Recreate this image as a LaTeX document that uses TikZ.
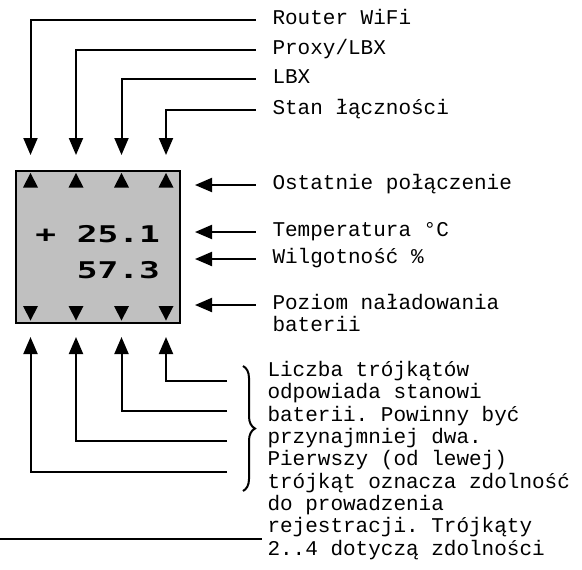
\documentclass[tikz,border=0pt]{standalone}
\usepackage{fontspec}
\setmonofont{Liberation Mono}
\newfontfamily\lcdfont[FakeStretch=1.5]{DejaVu Sans Mono Bold}
\usetikzlibrary{arrows.meta,decorations.pathreplacing}
\definecolor{lcdgray}{RGB}{192,192,192}
\tikzset{
  lbl/.style={anchor=base west, inner sep=0pt, align=left,
    font=\ttfamily\fontsize{10.5}{11.15}\selectfont},
  arr/.style={line width=1pt, -{Triangle[length=8.5pt,width=7pt]}},
  lcd/.style={anchor=base east, inner sep=0pt,
    font=\lcdfont\fontsize{11.5}{13}\selectfont},
}
\begin{document}
\begin{tikzpicture}[x=0.5pt,y=-0.5pt,line width=1pt]
\useasboundingbox (0,0) rectangle (582,569);
% display
\node[draw, fill=lcdgray, inner sep=0pt, minimum width=82pt, minimum height=76pt] (disp) at (98,247) {};
\foreach \x [count=\i] in {30.5,76,121.5,166} {
  \fill (\x-7.5,187.5) -- (\x+7.5,187.5) -- (\x,173) -- cycle;
  \fill (\x-7.5,306) -- (\x+7.5,306) -- (\x,320.5) -- cycle;
  \coordinate (col\i) at (\x,0);
}
\node[lcd] (temp) at (161,242) {+ 25.1};
\node[lcd] (hum) at (161,278) {57.3};
% labels on top
\node[lbl] (router) at (271.5,24.5) {Router WiFi};
\node[lbl] (proxy) at (271.5,54.5) {Proxy/LBX};
\node[lbl] (lbx) at (271.5,83.5) {LBX};
\node[lbl] (stan) at (271.5,114.5) {Stan łączności};
\draw[arr, shorten >=7.5pt] ([shift={(-16,-4.5)}]router.base west) -| (col1 |- disp.north);
\draw[arr, shorten >=7.5pt] ([shift={(-16,-4.5)}]proxy.base west) -| (col2 |- disp.north);
\draw[arr, shorten >=7.5pt] ([shift={(-16,-4.5)}]lbx.base west) -| (col3 |- disp.north);
\draw[arr, shorten >=7.5pt] ([shift={(-16,-4.5)}]stan.base west) -| (col4 |- disp.north);
% labels on the right
\node[lbl] (ostatnie) at (271.5,189.5) {Ostatnie połączenie};
\node[lbl] (temper) at (271.5,236.5) {Temperatura °C};
\node[lbl] (wilg) at (271.5,263.5) {Wilgotność \%};
\node[lbl] (poziom) at (271.5,331.8) {Poziom naładowania\\baterii};
\draw[arr, shorten >=7pt] ([shift={(-16,-4.5)}]ostatnie.base west) coordinate (o1) -- (o1 -| disp.east);
\draw[arr, shorten >=7pt] ([shift={(-16,-4.5)}]temper.base west) coordinate (o2) -- (o2 -| disp.east);
\draw[arr, shorten >=7pt] ([shift={(-16,-4.5)}]wilg.base west) coordinate (o3) -- (o3 -| disp.east);
\draw[arr, shorten >=7pt] ([shift={(-16,-26.8)}]poziom.base west) coordinate (o4) -- (o4 -| disp.east);
% battery triangles
\coordinate (b1) at (227,381);
\coordinate (b2) at (227,411);
\coordinate (b3) at (227,441);
\coordinate (b4) at (227,472);
\draw[arr, shorten >=6.5pt] (b1) -| (col4 |- disp.south);
\draw[arr, shorten >=6.5pt] (b2) -| (col3 |- disp.south);
\draw[arr, shorten >=6.5pt] (b3) -| (col2 |- disp.south);
\draw[arr, shorten >=6.5pt] (b4) -| (col1 |- disp.south);
\coordinate (braceTop) at (243,366);
\coordinate (braceBot) at (243,491);
\draw[decorate, decoration={brace, amplitude=6pt}] (braceTop) -- (braceBot);
\node[lbl] (note) at (266.5,555) {Liczba trójkątów\\odpowiada stanowi\\baterii. Powinny być\\przynajmniej dwa.\\Pierwszy (od lewej)\\trójkąt oznacza zdolność\\do prowadzenia\\rejestracji. Trójkąty\\2..4 dotyczą zdolności};
\coordinate (rule) at (0,539);
\draw (rule) -- (262,539);
\end{tikzpicture}
\end{document}
